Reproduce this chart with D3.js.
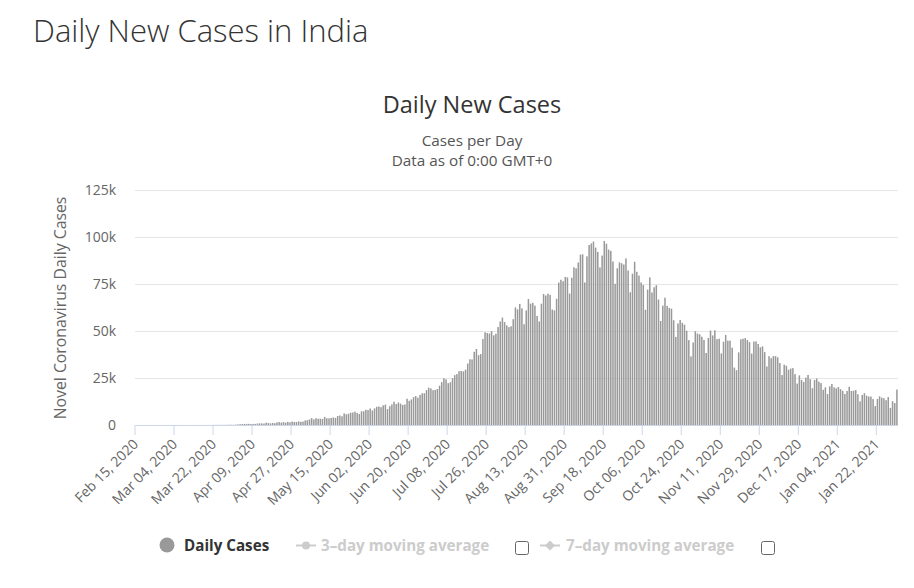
<!DOCTYPE html>
<html>
<head>
<meta charset="utf-8">
<script src="https://cdn.jsdelivr.net/npm/d3@7"></script>
<style>
  body { margin: 0; background: #fff; }
  svg { display: block; font-family: "Open Sans", "Noto Sans", sans-serif; }
</style>
</head>
<body>
<svg id="chart" width="914" height="588"></svg>
<script>
// ---------- DATA (daily new cases, by month) ----------
const startDate = "2020-02-15";
const feb2020 = [0,0,0,0,0,0,0,0,0,0,0,0,0,0,0];
const mar2020 = [0,0,0,2,1,22,2,1,3,5,9,15,8,10,10,12,11,15,16,15,28,58,78,69,94,74,86,73,153,136,120];
const apr2020 = [187,309,424,486,560,579,609,484,573,565,813,871,854,758,1243,1031,886,1061,922,1371,1580,1239,1537,1292,1667,1408,1835,1607,1568,1902];
const may2020 = [1705,1801,2396,2564,2952,3656,2971,3602,3344,3339,3175,4311,3592,3562,3726,3991,3808,4794,5049,4628,6154,5720,6023,6536,6667,7111,6414,5843,7293,7300,8105];
const jun2020 = [7964,8789,7723,8812,9689,9847,9472,10438,10864,8442,9987,10956,12375,11128,11929,11374,10667,10882,13974,12881,13586,14821,15403,14516,15968,16868,16922,18552,19906,19459];
const jul2020 = [18522,18653,19148,20903,22771,24850,24248,22252,22752,24879,26506,27114,28637,28701,28498,29429,32695,34956,34884,38902,40425,37148,37724,45720,49310,48916,48661,49931,47703,48513,52123];
const aug2020 = [55079,57118,54735,52972,52050,52509,56282,62538,61537,64399,62064,53601,60963,66999,64553,65002,63490,57981,55079,64531,69652,68898,69878,69239,61408,60975,67151,75760,77266,76472,78761];
const sep2020 = [78512,69921,78357,83883,83341,86432,90632,90802,75809,89706,95735,96551,97570,94372,92071,83809,90123,97894,96424,93337,92605,86961,75083,83347,86508,86052,85362,88600,82170,70589];
const oct2020 = [80472,86821,81484,79476,75829,74442,61267,72049,78524,70496,73272,74383,66732,55342,63509,67708,63371,62212,61871,55722,46790,54044,55839,54366,53370,50129,45149,36470,43893,49881,48648];
const nov2020 = [48268,46963,45231,38310,46253,50210,47638,50356,45674,45903,38073,44281,47905,44879,44878,41100,30548,29163,38617,45576,45882,46232,45209,44059,37975,44376,44489,43082,41322,41810];
const dec2020 = [38772,31118,36604,35551,36595,36652,36011,32981,26567,32080,31521,29398,30006,30254,27071,22065,26382,24010,22890,25153,26624,24337,19556,23950,24712,23067,22272,18732,20021,16432,20550];
const jan2021 = [21822,20035,19500,20200,19079,18177,16505,18088,20346,18139,18222,18645,16311,12584,15968,16946,15590,15158,15144,13788,10064,13823,15223,14545,14256,13203,14849,9102,12689,11666,18855];

const tickLabels = ["Feb 15, 2020","Mar 04, 2020","Mar 22, 2020","Apr 09, 2020","Apr 27, 2020","May 15, 2020","Jun 02, 2020","Jun 20, 2020","Jul 08, 2020","Jul 26, 2020","Aug 13, 2020","Aug 31, 2020","Sep 18, 2020","Oct 06, 2020","Oct 24, 2020","Nov 11, 2020","Nov 29, 2020","Dec 17, 2020","Jan 04, 2021","Jan 22, 2021"];
const yTicks = [0, 25000, 50000, 75000, 100000, 125000];
const yTickLabels = ["0", "25k", "50k", "75k", "100k", "125k"];
const legendItems = ["Daily Cases", "3\u2013day moving average", "7\u2013day moving average"];

// ---------- BUILD ----------
const dailyCases = [].concat(feb2020, mar2020, apr2020, may2020, jun2020, jul2020, aug2020, sep2020, oct2020, nov2020, dec2020, jan2021);
const parse = d3.timeParse("%Y-%m-%d");
const fmt = d3.timeFormat("%b %d, %Y");
const t0 = parse(startDate);
const categories = dailyCases.map((_, i) => fmt(d3.timeDay.offset(t0, i)));
const data = categories.map((c, i) => ({ cat: c, value: dailyCases[i] }));

const svg = d3.select("#chart");
const plot = { left: 135, right: 898, top: 190, bottom: 425 };

const x = d3.scaleBand()
  .domain(categories)
  .range([plot.left, plot.right])
  .paddingInner(0.3)
  .paddingOuter(0.15);
const y = d3.scaleLinear().domain([0, 125000]).range([plot.bottom, plot.top]);

// Titles
svg.append("text").attr("x", 33).attr("y", 42)
  .attr("font-size", 31).attr("font-weight", 300).attr("fill", "#333")
  .text("Daily New Cases in India");
svg.append("text").attr("x", 472).attr("y", 113).attr("text-anchor", "middle")
  .attr("font-size", 23.5).attr("fill", "#333")
  .text("Daily New Cases");
svg.append("text").attr("x", 472).attr("y", 146).attr("text-anchor", "middle")
  .attr("font-size", 15.3).attr("fill", "#555")
  .text("Cases per Day");
svg.append("text").attr("x", 472).attr("y", 166).attr("text-anchor", "middle")
  .attr("font-size", 15.3).attr("fill", "#555")
  .text("Data as of 0:00 GMT+0");

// Gridlines + y labels
const yAxis = d3.axisLeft(y).tickValues(yTicks)
  .tickSize(-(plot.right - plot.left))
  .tickFormat((d, i) => yTickLabels[i]);
const gy = svg.append("g").attr("transform", `translate(${plot.left},0)`).call(yAxis);
gy.select(".domain").remove();
gy.selectAll(".tick line").attr("stroke", "#e6e6e6");
gy.selectAll(".tick text").attr("x", -19).attr("font-size", 14)
  .attr("fill", "#666").attr("font-family", "Open Sans, sans-serif");

// Y title
svg.append("text")
  .attr("transform", "translate(66,308) rotate(-90)")
  .attr("text-anchor", "middle").attr("font-size", 15.8).attr("fill", "#666")
  .text("Novel Coronavirus Daily Cases");

// Bars
svg.append("g").selectAll("rect").data(data).join("rect")
  .attr("x", d => x(d.cat))
  .attr("y", d => y(d.value))
  .attr("width", x.bandwidth())
  .attr("height", d => y(0) - y(d.value))
  .attr("fill", "#999");

// X axis
const tickCats = tickLabels.map((_, k) => categories[k * 18]);
const xAxis = d3.axisBottom(x).tickValues(tickCats)
  .tickSize(10)
  .tickFormat((d, i) => tickLabels[i]);
const gx = svg.append("g").attr("transform", `translate(0,${plot.bottom})`).call(xAxis);
gx.select(".domain").attr("stroke", "#ccd6eb").attr("d", `M${plot.left},0.5H${plot.right}`);
gx.selectAll(".tick line").attr("stroke", "#ccd6eb")
  .attr("transform", `translate(${-x.step() / 2},0)`);
gx.selectAll(".tick text")
  .attr("font-size", 14).attr("fill", "#666").attr("font-family", "Open Sans, sans-serif")
  .attr("text-anchor", "end")
  .attr("dy", null).attr("y", 0)
  .attr("transform", "translate(3,20) rotate(-45)");

// Legend
const lg = svg.append("g");
lg.append("circle").attr("cx", 167).attr("cy", 545).attr("r", 7.5).attr("fill", "#999");
lg.append("text").attr("x", 184).attr("y", 551).attr("font-size", 15.2).attr("font-weight", 700)
  .attr("fill", "#333").text(legendItems[0]);

lg.append("line").attr("x1", 296).attr("x2", 316).attr("y1", 545.5).attr("y2", 545.5)
  .attr("stroke", "#ccc").attr("stroke-width", 2);
lg.append("circle").attr("cx", 306).attr("cy", 545.5).attr("r", 4).attr("fill", "#ccc");
lg.append("text").attr("x", 321).attr("y", 551).attr("font-size", 15.2).attr("font-weight", 700)
  .attr("fill", "#ccc").text(legendItems[1]);
lg.append("rect").attr("x", 515.5).attr("y", 541.5).attr("width", 13).attr("height", 13)
  .attr("rx", 2).attr("fill", "#fff").attr("stroke", "#666");

lg.append("line").attr("x1", 540).attr("x2", 560).attr("y1", 545.5).attr("y2", 545.5)
  .attr("stroke", "#ccc").attr("stroke-width", 2);
lg.append("path").attr("d", "M550,540.5 L555,545.5 L550,550.5 L545,545.5 Z").attr("fill", "#ccc");
lg.append("text").attr("x", 566).attr("y", 551).attr("font-size", 15.2).attr("font-weight", 700)
  .attr("fill", "#ccc").text(legendItems[2]);
lg.append("rect").attr("x", 761.5).attr("y", 541.5).attr("width", 13).attr("height", 13)
  .attr("rx", 2).attr("fill", "#fff").attr("stroke", "#666");
</script>
</body>
</html>
